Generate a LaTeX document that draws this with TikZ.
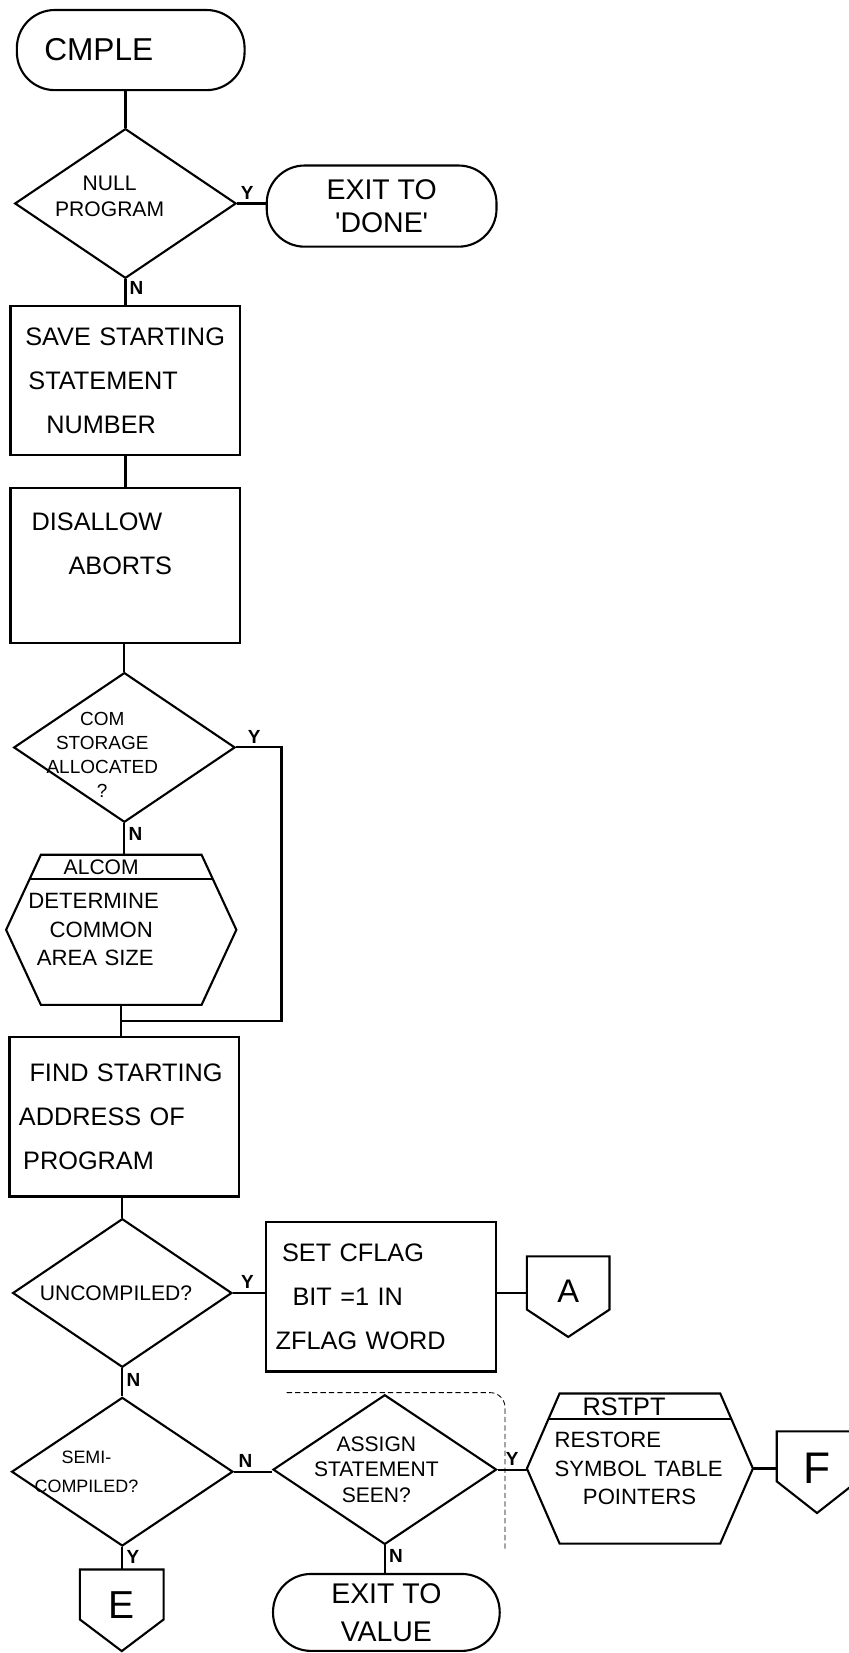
\documentclass[tikz,border=0pt]{standalone}
\usepackage{fontspec}
\setmainfont{Liberation Sans}
\usetikzlibrary{shapes.geometric, calc}

\newcommand{\offpageshape}[2]{%
  \draw[flow] (#1.north west) -- (#1.north east) -- (#1.south east)
    -- ($(#1.south)+(0,#2)$) -- (#1.south west) -- cycle;}
\newcommand{\predefshape}[3]{%
  \draw[flow] ($(#1.north west)+(#2,0)$) -- ($(#1.north east)+(-#2,0)$) -- (#1.east)
    -- ($(#1.south east)+(-#2,0)$) -- ($(#1.south west)+(#2,0)$) -- (#1.west) -- cycle;
  \draw[flow] ($(#1.north west)!#3!(#1.west)+({#2*(1-#3)},0)$)
    -- ($(#1.north east)!#3!(#1.east)+({-#2*(1-#3)},0)$);}

\begin{document}
\begin{tikzpicture}[x=1pt, y=-1pt,
        flow/.style={line width=2pt},
        terminal/.style={draw, line width=2pt, rectangle, rounded corners=36pt, align=center, inner sep=0pt, font=\fontsize{27}{31}\selectfont},
        decision/.style={draw, line width=2pt, diamond, inner sep=0pt},
        dtext/.style={align=center, inner sep=0pt, font=\fontsize{20}{25}\selectfont},
        process/.style={draw, line width=2pt, rectangle, align=left, text width=200pt, inner xsep=9pt, font=\fontsize{24}{42}\selectfont},
        predefined/.style={rectangle, align=left, inner xsep=21pt, inner ysep=0pt, font=\fontsize{21}{27}\selectfont},
        hdr/.style={inner sep=1pt},
        offpage/.style={rectangle, inner sep=0pt},
        yn/.style={inner sep=3pt, font=\fontsize{18}{19}\selectfont\bfseries}
    ]
        \useasboundingbox (0,0) rectangle (805,1568);

        \node[terminal, minimum width=216pt, minimum height=76pt, font=\fontsize{30}{34}\selectfont] (start) at (124,47.5) {\makebox[164pt][l]{CMPLE}};
        \node[decision, minimum width=210pt, minimum height=142pt, label={[dtext, xshift=-15pt, yshift=7pt]center:{NULL\\PROGRAM}}] (null) at (119,193) {};
        \node[terminal, minimum width=218pt, minimum height=77pt] (done) at (362,195.5) {EXIT TO\\\textquotesingle DONE\textquotesingle};
        \node[process, minimum height=142pt] (save) at (119,361) {\hspace*{5pt}SAVE STARTING\\\hspace*{8pt}STATEMENT\\\hspace*{25pt}NUMBER};
        \node[process, minimum height=147pt] (dis) at (119,536.5) {\hspace*{11pt}DISALLOW\\\hspace*{46pt}ABORTS\\\mbox{}};
        \node[decision, minimum width=210pt, minimum height=142pt, label={[dtext, font=\fontsize{18}{23}\selectfont, xshift=-21pt, yshift=-7pt]center:{COM\\STORAGE\\ALLOCATED\\?}}] (com) at (118,709) {};
        \node[predefined, text width=176pt, minimum height=142pt, label={[hdr, font=\fontsize{20}{22}\selectfont, xshift=-19pt, yshift=59pt]center:ALCOM}] (alcom) at (115,882) {DETERMINE\\\hspace*{20pt}COMMON\\\hspace*{8pt}AREA SIZE};
        \predefshape{alcom}{33}{0.32}
        \node[process, minimum height=151pt] (find) at (118,1059.5) {\hspace*{10pt}FIND STARTING\\ADDRESS OF\\\hspace*{4pt}PROGRAM};
        \node[decision, minimum width=208pt, minimum height=141pt, label={[dtext, xshift=-6pt]center:UNCOMPILED?}] (unc) at (116,1226.5) {};
        \node[process, minimum height=142pt] (cflag) at (361.5,1230) {\hspace*{6pt}SET CFLAG\\\hspace*{16pt}BIT =1 IN\\ZFLAG WORD};
        \node[offpage, minimum width=78pt, minimum height=50pt, label={[font=\fontsize{31}{34}\selectfont, yshift=-8pt]center:A}] (conA) at (539,1217) {};
        \offpageshape{conA}{26}
        \node[decision, minimum width=210pt, minimum height=141pt, label={[dtext, font=\fontsize{17}{28}\selectfont, xshift=-34pt]center:{SEMI-\\COMPILED?}}] (semi) at (116,1396) {};
        \node[decision, minimum width=212pt, minimum height=142pt, label={[dtext, font=\fontsize{20}{24}\selectfont, xshift=-8pt]center:{ASSIGN\\STATEMENT\\SEEN?}}] (assign) at (365,1394) {};
        \node[predefined, text width=170pt, inner xsep=22pt, minimum height=142pt, label={[hdr, font=\fontsize{24}{26}\selectfont, xshift=-15pt, yshift=59pt]center:RSTPT}] (rstpt) at (607,1393) {\hspace*{4pt}RESTORE\\\hspace*{4pt}SYMBOL TABLE\\\hspace*{31pt}POINTERS};
        \predefshape{rstpt}{31}{0.34}
        \node[offpage, minimum width=76pt, minimum height=47pt, label={[font=\fontsize{42}{46}\selectfont, yshift=-11pt]center:F}] (conF) at (775,1381.5) {};
        \offpageshape{conF}{30}
        \node[offpage, minimum width=79pt, minimum height=47pt, label={[font=\fontsize{37}{40}\selectfont, yshift=-10pt]center:E}] (conE) at (115.5,1512.5) {};
        \offpageshape{conE}{30}
        \node[terminal, minimum width=215pt, minimum height=73pt, font=\fontsize{27}{36}\selectfont] (value) at (366.5,1529.5) {EXIT TO\\VALUE};

        \coordinate (merge) at ($(alcom.south)+(0,15)$);

        \draw[flow] (start.south -| null.north) -- (null.north);
        \draw[flow] (null.east) -- node[yn, above, pos=0.35] {Y} (null.east -| done.west);
        \draw[flow] (null.south) -- node[yn, right, pos=0.35] {N} (null.south |- save.north);
        \draw[flow] (save.south) -- (dis.north);
        \draw[flow] (com.north |- dis.south) -- (com.north);
        \draw[flow] (com.south) -- node[yn, right, pos=0.35] {N} (com.south |- alcom.north);
        \draw[flow] (com.east) -- node[yn, above, pos=0.4] {Y} ++(43,0) |- (merge);
        \draw[flow] (alcom.south) -- (alcom.south |- find.north);
        \draw[flow] (find.south -| unc.north) -- (unc.north);
        \draw[flow] (unc.east) -- node[yn, above, pos=0.45] {Y} (unc.east -| cflag.west);
        \draw[flow] (unc.east -| cflag.east) -- (unc.east -| conA.west);
        \draw[flow] (unc.south) -- node[yn, right, pos=0.4] {N} (semi.north);
        \draw[flow] (semi.east) -- node[yn, above, pos=0.3] {N} (semi.east -| assign.west);
        \draw[flow] (semi.south) -- node[yn, right, pos=0.45] {Y} (semi.south |- conE.north);
        \draw[flow] (assign.east) -- node[yn, above, pos=0.5] {Y} (assign.east -| rstpt.west);
        \draw[flow] (assign.south) -- node[yn, right, pos=0.4] {N} (assign.south |- value.north);
        \draw[flow] (rstpt.east) -- (rstpt.east -| conF.west);
        \draw[line width=0.8pt, dash pattern=on 5pt off 3pt, rounded corners=14pt] (272,1321) -- (479,1321) -- (479,1470);
    \end{tikzpicture}
\end{document}
